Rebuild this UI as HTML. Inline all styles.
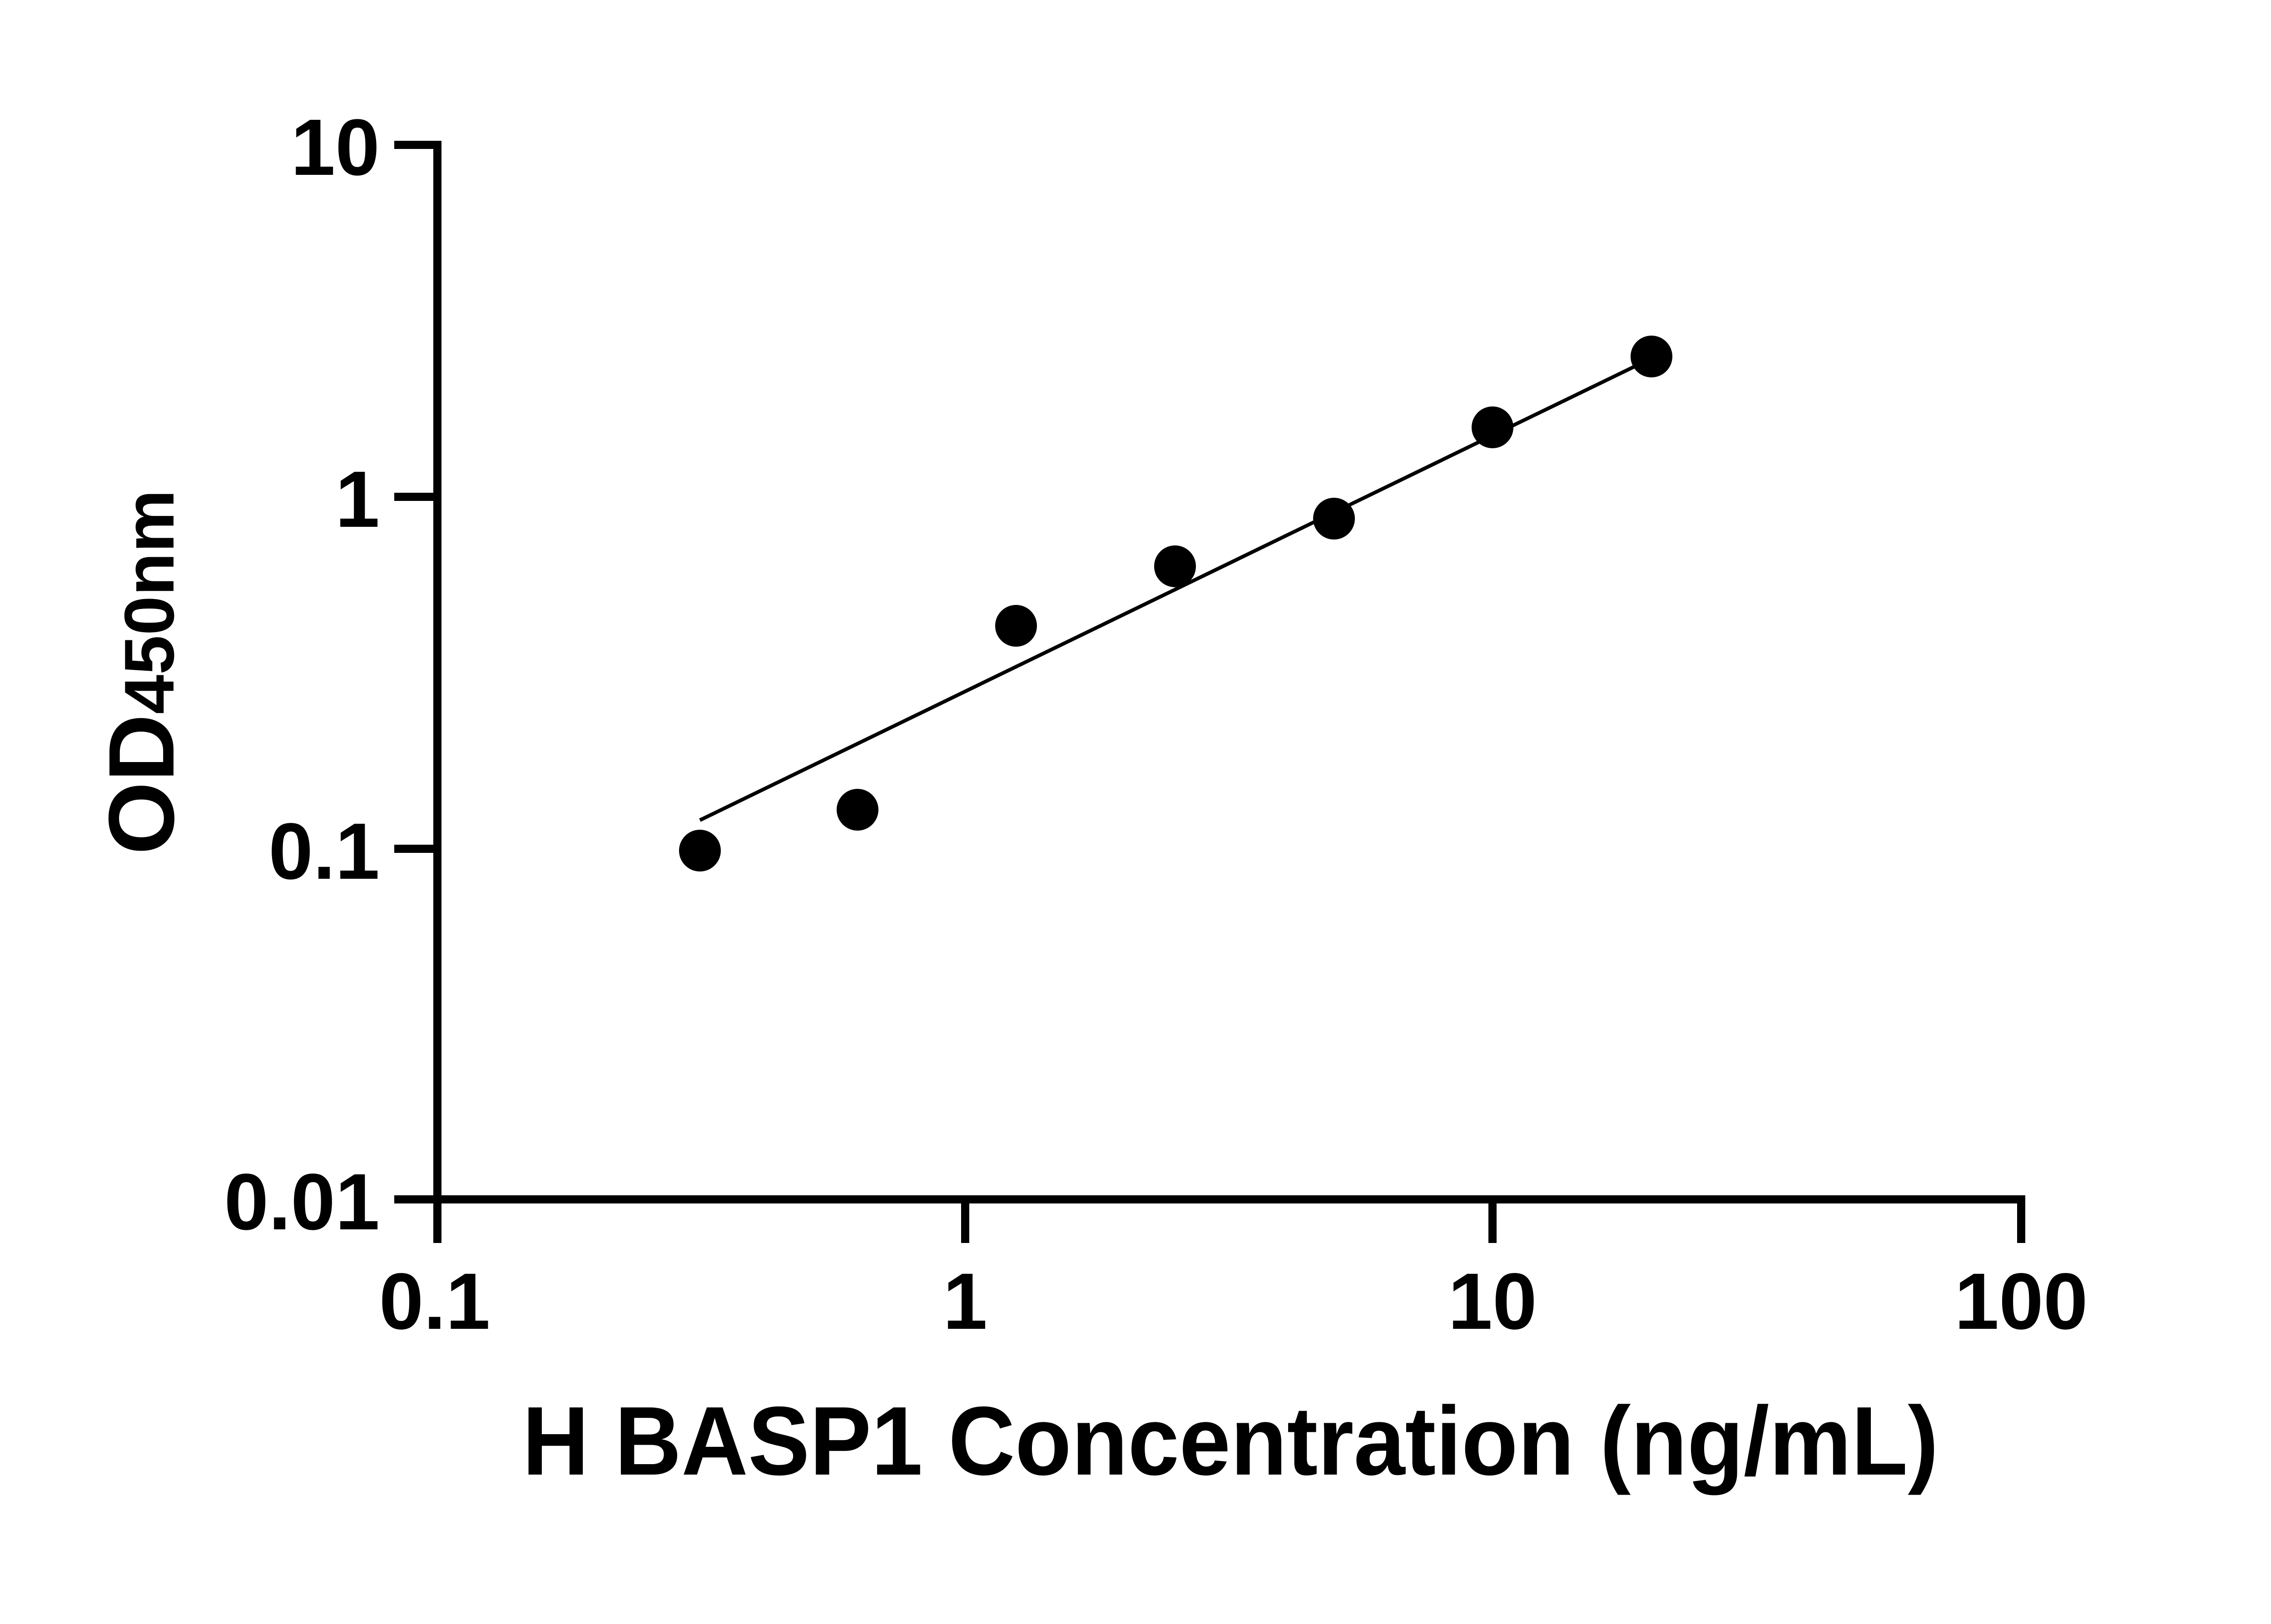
<!DOCTYPE html>
<html><head><meta charset="utf-8"><style>
html,body{margin:0;padding:0;background:#fff;}
svg{display:block;}
text{font-family:"Liberation Sans",Arial,sans-serif;font-weight:bold;fill:#000;}
</style></head><body>
<svg width="5170" height="3576" viewBox="0 0 5170 3576" xmlns="http://www.w3.org/2000/svg">
<g stroke="#000" stroke-width="18" fill="none" stroke-linecap="butt">
<line x1="963" y1="310" x2="963" y2="2737"/>
<line x1="868" y1="2641" x2="4459" y2="2641"/>
<line x1="868" y1="319" x2="972" y2="319"/>
<line x1="868" y1="1094" x2="972" y2="1094"/>
<line x1="868" y1="1869" x2="972" y2="1869"/>
<line x1="2125" y1="2632" x2="2125" y2="2737"/>
<line x1="3286" y1="2632" x2="3286" y2="2737"/>
<line x1="4450" y1="2632" x2="4450" y2="2737"/>
</g>
<line x1="1541" y1="1806" x2="3605" y2="804" stroke="#000" stroke-width="8"/>
<g fill="#000">
<circle cx="1541" cy="1873" r="46"/>
<circle cx="1888" cy="1783" r="46"/>
<circle cx="2237" cy="1378" r="46"/>
<circle cx="2587" cy="1247" r="46"/>
<circle cx="2937" cy="1142" r="46"/>
<circle cx="3286" cy="941" r="46"/>
<circle cx="3636" cy="785" r="46"/>
</g>
<g font-size="176" text-anchor="end">
<text x="836" y="385">10</text>
<text x="836" y="1160">1</text>
<text x="836" y="1935">0.1</text>
<text x="836" y="2707">0.01</text>
</g>
<g font-size="176" text-anchor="middle">
<text x="957" y="2926">0.1</text>
<text x="2125" y="2926">1</text>
<text x="3286" y="2926">10</text>
<text x="4450" y="2926">100</text>
</g>
<text x="1150" y="3247" font-size="215" textLength="3118" lengthAdjust="spacingAndGlyphs">H BASP1 Concentration (ng/mL)</text>
<text transform="translate(382,1882) rotate(-90)" font-size="205" textLength="804" lengthAdjust="spacingAndGlyphs">OD<tspan font-size="155">450nm</tspan></text>
</svg>
</body></html>
